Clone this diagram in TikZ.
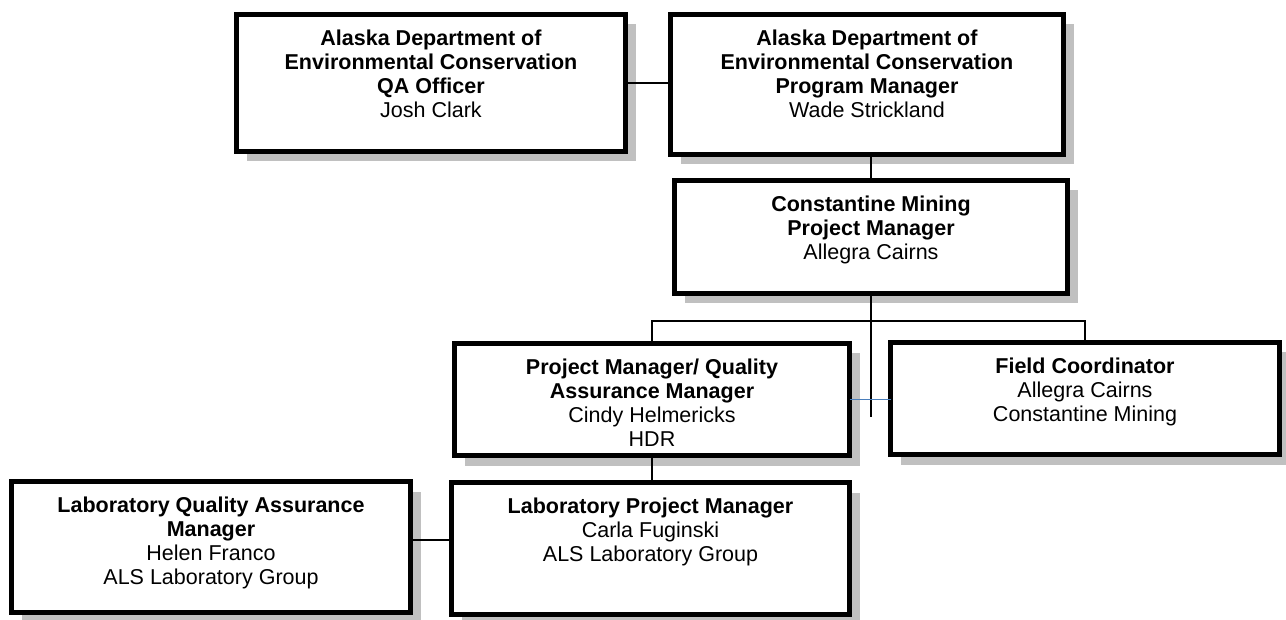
\documentclass[tikz,border=0pt]{standalone}
\usepackage{fontspec}
\setmainfont{Liberation Sans}
\usetikzlibrary{shadows}
\definecolor{shgray}{HTML}{C0C0C0}
\definecolor{lnkblue}{HTML}{4A7EBB}
\tikzset{
  obox/.style={rectangle, draw, fill=white, line width=2.5pt, outer sep=0pt, inner sep=0pt,
    drop shadow={shadow xshift=5pt, shadow yshift=-5pt, fill=shgray, opacity=1}},
  otxt/.style={anchor=north, align=center, inner sep=0pt, yshift=-7.5pt,
    font=\fontsize{10.75}{12}\selectfont},
  con/.style={line width=0.75pt},
  conb/.style={con, draw=lnkblue}
}

\begin{document}
\begin{tikzpicture}[x=0.5pt, y=-0.5pt]
		\useasboundingbox (0,0) rectangle (1286,620);
		\node[obox, minimum width=194.5pt, minimum height=68.5pt] (qa) at (431,83) {};
		\node[obox, minimum width=196.5pt, minimum height=70pt] (pm) at (867,84.5) {};
		\node[obox, minimum width=196.5pt, minimum height=56.5pt] (cm) at (871,237) {};
		\node[obox, minimum width=197.5pt, minimum height=56pt] (pmqa) at (652,399.5) {};
		\node[obox, minimum width=194.5pt, minimum height=56pt] (fc) at (1085,398.5) {};
		\node[obox, minimum width=199.5pt, minimum height=65.5pt] (labqa) at (211,547) {};
		\node[obox, minimum width=199pt, minimum height=66pt] (labpm) at (650.5,548.5) {};
		\node[otxt] (qat) at (qa.north) {\textbf{Alaska Department of}\\\textbf{Environmental Conservation}\\\textbf{QA Officer}\\Josh Clark};
		\node[otxt] (pmt) at (pm.north) {\textbf{Alaska Department of}\\\textbf{Environmental Conservation}\\\textbf{Program Manager}\\Wade Strickland};
		\node[otxt] (cmt) at (cm.north) {\textbf{Constantine Mining}\\\textbf{Project Manager}\\Allegra Cairns};
		\node[otxt] (pmqat) at (pmqa.north) {\textbf{Project Manager/ Quality}\\\textbf{Assurance Manager}\\Cindy Helmericks\\HDR};
		\node[otxt] (fct) at (fc.north) {\textbf{Field Coordinator}\\Allegra Cairns\\Constantine Mining};
		\node[otxt] (labqat) at (labqa.north) {\textbf{Laboratory Quality Assurance}\\\textbf{Manager}\\Helen Franco\\ALS Laboratory Group};
		\node[otxt] (labpmt) at (labpm.north) {\textbf{Laboratory Project Manager}\\Carla Fuginski\\ALS Laboratory Group};
		\coordinate (bus) at (871,321);
		\coordinate (cmend) at (871,417);
		\draw[con] (qa.east) -- (qa.east -| pm.west);
		\draw[con] (cm.north) -- (cm.north |- pm.south);
		\draw[con] (cm.south) -- (cmend);
		\draw[con] (pmqa.north) |- (bus) -| (fc.north);
		\draw[conb] (pmqa.east) -- (pmqa.east -| fc.west);
		\draw[con] (pmqa.south) -- (pmqa.south |- labpm.north);
		\draw[con] ([yshift=3.5pt]labqa.east) -- ([yshift=3.5pt]labqa.east -| labpm.west);
	\end{tikzpicture}
\end{document}
